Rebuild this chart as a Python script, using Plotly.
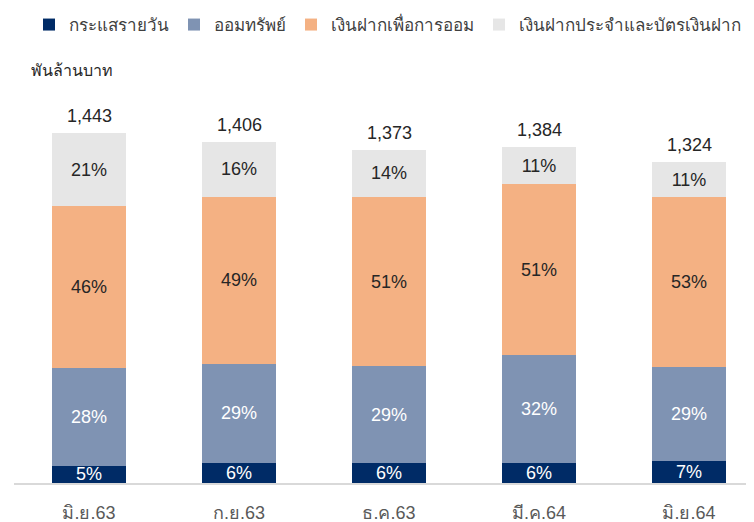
import plotly.graph_objects as go

categories = ["มิ.ย.63", "ก.ย.63", "ธ.ค.63", "มี.ค.64", "มิ.ย.64"]
totals = [1443, 1406, 1373, 1384, 1324]
series_names = ["กระแสรายวัน", "ออมทรัพย์", "เงินฝากเพื่อการออม", "เงินฝากประจำและบัตรเงินฝาก"]
pct_current = [5, 6, 6, 6, 7]
pct_savings = [28, 29, 29, 32, 29]
pct_savings_plan = [46, 49, 51, 51, 53]
pct_fixed = [21, 16, 14, 11, 11]
colors = ["#002B66", "#7F93B3", "#F4B183", "#E6E6E6"]
text_colors = ["#FFFFFF", "#FFFFFF", "#262626", "#262626"]

FONT = "Liberation Sans, Arial, sans-serif"
W, H = 754, 522
OFF = 8  # page body margin
PLOT_TOP, PLOT_BOTTOM, PLOT_LEFT, PLOT_RIGHT = 100 - OFF, 483 - OFF, 14 - OFF, 752 - OFF

fig = go.Figure()
xs = list(range(len(categories)))
all_pcts = [pct_current, pct_savings, pct_savings_plan, pct_fixed]
for name, pcts, col, tcol in zip(series_names, all_pcts, colors, text_colors):
    vals = [p * t / 100 for p, t in zip(pcts, totals)]
    fig.add_trace(go.Bar(
        x=xs, y=vals, name=name,
        marker=dict(color=col, line=dict(width=0)),
        text=[f"{p}%" for p in pcts], textposition="inside",
        insidetextanchor="middle", constraintext="none",
        textfont=dict(color=tcol, size=18, family=FONT, weight="normal"),
        hoverinfo="skip",
    ))

annotations = [
    dict(x=x, y=t, xref="x", yref="y", text=f"{t:,}", showarrow=False,
         yanchor="bottom", yshift=5,
         font=dict(size=18, color="#262626", family=FONT))
    for x, t in zip(xs, totals)
]
annotations.append(dict(
    text="พันล้านบาท", xref="paper", yref="paper",
    x=(29 - OFF - PLOT_LEFT) / (PLOT_RIGHT - PLOT_LEFT),
    y=(PLOT_BOTTOM - (70 - OFF)) / (PLOT_BOTTOM - PLOT_TOP),
    xanchor="left", yanchor="middle", showarrow=False,
    font=dict(size=16, color="#262626", family=FONT)))

fig.update_layout(
    width=W, height=H,
    barmode="stack", bargap=0.507,
    plot_bgcolor="white", paper_bgcolor="white",
    margin=dict(l=PLOT_LEFT, r=W - PLOT_RIGHT, t=PLOT_TOP, b=H - PLOT_BOTTOM, autoexpand=False),
    uniformtext=dict(minsize=18, mode="show"),
    font=dict(family=FONT, color="#404040"),
    legend=dict(orientation="h", xref="container", yref="container",
                x=(29 - OFF) / W, xanchor="left", y=1 - (25 - OFF) / H, yanchor="middle",
                font=dict(size=17, color="#404040"),
                traceorder="normal", tracegroupgap=0),
    xaxis=dict(range=[-0.5, 4.42], tickvals=xs, automargin=False,
               ticktext=categories, showgrid=False, zeroline=False,
               showline=True, linecolor="#D9D9D9", linewidth=2,
               ticks="", ticklabelstandoff=12,
               tickfont=dict(size=18, color="#595959")),
    yaxis=dict(range=[0, 1579], visible=False),
    annotations=annotations,
)
fig.write_html("out.html")
